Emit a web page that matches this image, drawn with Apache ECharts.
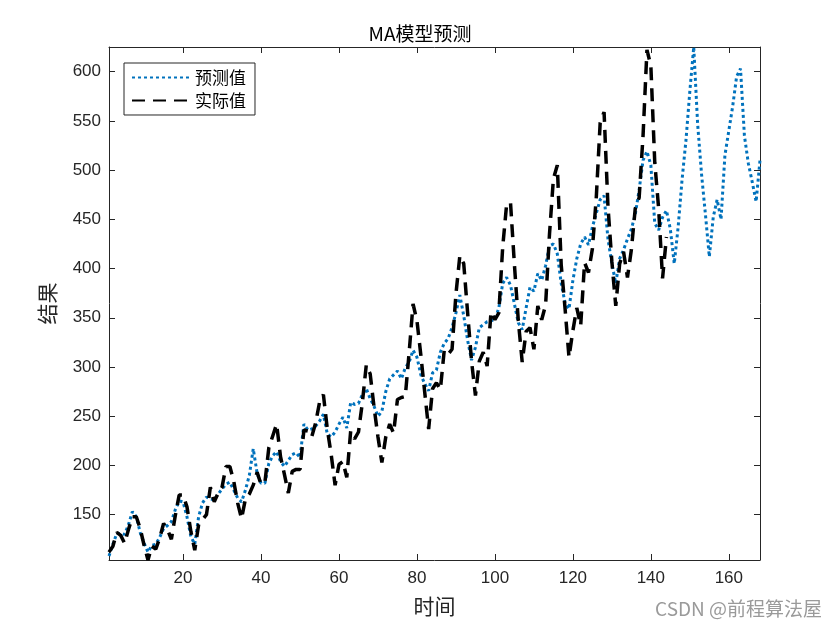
<!DOCTYPE html>
<html>
<head>
<meta charset="utf-8">
<script src="https://cdn.jsdelivr.net/npm/echarts@6/dist/echarts.min.js"></script>
<style>html,body{margin:0;padding:0;background:#fff;}#c{width:840px;height:630px;}</style>
</head>
<body>
<div id="c"></div>
<script>
// Actual values (time 1..144)
var actual = [112,118,132,129,121,135,148,148,136,119,104,118,
115,126,141,135,125,149,170,170,158,133,114,140,
145,150,178,163,172,178,199,199,184,162,146,166,
171,180,193,181,183,218,230,242,209,191,172,194,
196,196,236,235,229,243,264,272,237,211,180,201,
204,188,235,227,234,264,302,293,259,229,203,229,
242,233,267,269,270,315,364,347,312,274,237,278,
284,277,317,313,318,374,413,405,355,306,271,306,
315,301,356,348,355,422,465,467,404,347,305,336,
340,318,362,348,363,435,491,505,404,359,310,337,
360,342,406,396,420,472,548,559,463,407,362,405,
417,391,419,461,472,535,622,606,508,461,390,432];
// Predicted values (time 1..168)
var predicted = [108,120,131,131,130,140,153,148,132,121,112,119,
120,127,136,139,143,155,164,163,148,128,120,148,
162,168,166,165,171,176,181,183,175,167,163,175,
190,217,192,182,182,202,210,214,204,199,205,211,
213,208,242,236,237,240,245,252,232,229,234,242,
249,238,264,262,263,272,278,268,260,250,255,275,
288,292,296,288,299,305,317,310,292,283,276,294,
297,315,324,329,340,355,373,352,327,307,320,340,
343,346,347,348,360,385,391,383,364,345,338,360,
381,377,395,388,403,423,425,415,385,365,359,388,
410,425,432,424,442,456,470,474,430,405,385,410,
419,430,440,455,480,510,519,505,446,439,452,459,
440,405,442,490,530,580,625,547,496,455,412,452,
470,450,515,540,565,595,603,535,507,488,468,510];
var xTicks = [20,40,60,80,100,120,140,160];
var yTicks = [150,200,250,300,350,400,450,500,550,600];
var xMin = 1, xMax = 168, yMin = 104, yMax = 625;

function pairs(arr){ return arr.map(function(v,i){ return [i+1, v]; }); }

var chart = echarts.init(document.getElementById('c'), null, {renderer:'canvas'});
var axisLine = {show:true, lineStyle:{color:'#262626', width:1}};
var tickLine = {color:'#262626', width:1};
var fontFam = 'Liberation Sans, Arial, sans-serif';
var cjk = 'Noto Sans CJK SC, sans-serif';
chart.setOption({
  animation:false,
  backgroundColor:'#fff',
  title:{text:'MA模型预测', left:'center', top:19,
    textStyle:{fontSize:19, fontWeight:'normal', color:'#000', fontFamily:cjk}},
  grid:{left:109, right:80, top:47, bottom:70, containLabel:false},
  legend:{
    orient:'vertical', left:124, top:63,
    backgroundColor:'#fff', borderColor:'#262626', borderWidth:1, borderRadius:0,
    padding:[6,9,6,7], itemGap:6, itemWidth:58, itemHeight:14,
    itemStyle:{color:'rgba(0,0,0,0)', borderWidth:0, opacity:0},
    textStyle:{fontSize:17, color:'#000', fontFamily:cjk, padding:[0,0,0,0]},
    data:['预测值','实际值']
  },
  xAxis:[{
    type:'value', min:xMin, max:xMax, position:'bottom',
    name:'时间', nameLocation:'middle', nameGap:36,
    nameTextStyle:{fontSize:21, color:'#262626', fontFamily:cjk},
    axisLine:axisLine,
    axisTick:{show:true, inside:true, length:6, customValues:xTicks, lineStyle:tickLine},
    axisLabel:{customValues:xTicks, fontSize:17, color:'#262626', fontFamily:fontFam, margin:10},
    splitLine:{show:false}
  },{
    type:'value', min:xMin, max:xMax, position:'top',
    axisLine:axisLine,
    axisTick:{show:true, inside:true, length:6, customValues:xTicks, lineStyle:tickLine},
    axisLabel:{show:false}, splitLine:{show:false}
  }],
  yAxis:[{
    type:'value', min:yMin, max:yMax, position:'left',
    name:'结果', nameLocation:'middle', nameGap:51, nameRotate:90,
    nameTextStyle:{fontSize:21, color:'#262626', fontFamily:cjk},
    axisLine:axisLine,
    axisTick:{show:true, inside:true, length:6, customValues:yTicks, lineStyle:tickLine},
    axisLabel:{customValues:yTicks, fontSize:17, color:'#262626', fontFamily:fontFam, margin:8},
    splitLine:{show:false}
  },{
    type:'value', min:yMin, max:yMax, position:'right',
    axisLine:axisLine,
    axisTick:{show:true, inside:true, length:6, customValues:yTicks, lineStyle:tickLine},
    axisLabel:{show:false}, splitLine:{show:false}
  }],
  series:[{
    name:'预测值', type:'line', data:pairs(predicted), showSymbol:false, symbol:'none',
    xAxisIndex:0, yAxisIndex:0, z:2,
    itemStyle:{color:'#0072BD'},
    lineStyle:{color:'#0072BD', width:3, type:[3,3]}
  },{
    name:'实际值', type:'line', data:pairs(actual), showSymbol:false, symbol:'none',
    xAxisIndex:0, yAxisIndex:0, z:3,
    itemStyle:{color:'#000'},
    lineStyle:{color:'#000', width:3.5, type:[13,8]}
  }],
  graphic:[{
    type:'text', right:18, top:599,
    style:{text:'CSDN @前程算法屋', fill:'#9a9a9a', font:'19px "Noto Sans CJK SC", sans-serif'}
  }]
});
</script>
</body>
</html>
